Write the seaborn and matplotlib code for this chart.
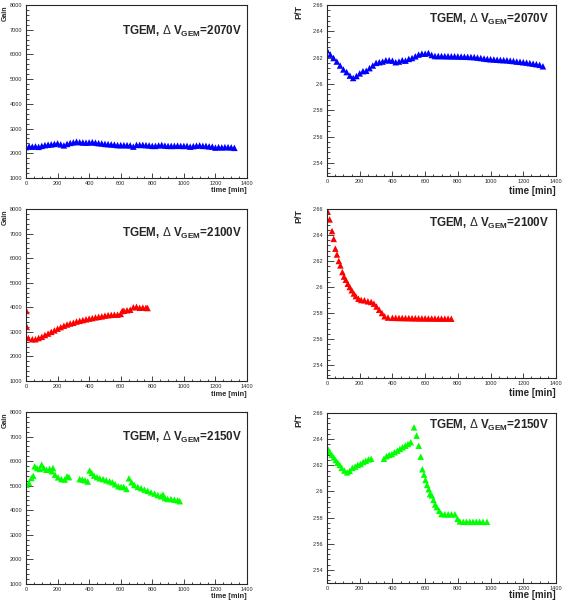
import numpy as np
import pandas as pd
import matplotlib
matplotlib.use("Agg")
import matplotlib.pyplot as plt
import seaborn as sns
from matplotlib.ticker import MultipleLocator, FormatStrFormatter

# ==============================
# DATA
# ==============================
t_2070 = [0, 20, 40, 60, 80, 100, 120, 140, 160, 180, 200, 220, 240, 260, 280, 300,
          320, 340, 360, 380, 400, 420, 440, 460, 480, 500, 520, 540, 560, 580, 600,
          620, 640, 660, 680, 700, 720, 740, 760, 780, 800, 820, 840, 860, 880, 900,
          920, 940, 960, 980, 1000, 1020, 1040, 1060, 1080, 1100, 1120, 1140, 1160,
          1180, 1200, 1220, 1240, 1260, 1280, 1300, 1320]
gain_2070 = [2250, 2280, 2270, 2280, 2260, 2300, 2330, 2350, 2360, 2380, 2400, 2360,
             2320, 2380, 2420, 2440, 2470, 2450, 2440, 2430, 2440, 2450, 2430, 2410,
             2400, 2380, 2370, 2360, 2350, 2330, 2330, 2330, 2330, 2320, 2270, 2340,
             2340, 2340, 2330, 2320, 2300, 2300, 2320, 2340, 2310, 2300, 2300, 2300,
             2310, 2300, 2300, 2300, 2270, 2290, 2310, 2320, 2300, 2300, 2280, 2270,
             2230, 2250, 2240, 2250, 2250, 2240, 2220]
pt_2070 = [2.6256, 2.6223, 2.6197, 2.6170, 2.6140, 2.6110, 2.6090, 2.6063, 2.6045,
           2.6060, 2.6080, 2.6097, 2.6100, 2.6120, 2.6140, 2.6160, 2.6165, 2.6170,
           2.6180, 2.6180, 2.6177, 2.6165, 2.6170, 2.6180, 2.6177, 2.6190, 2.6197,
           2.6210, 2.6223, 2.6230, 2.6230, 2.6235, 2.6220, 2.6212, 2.6212, 2.6212,
           2.6211, 2.6211, 2.6210, 2.6210, 2.6209, 2.6208, 2.6207, 2.6206, 2.6205,
           2.6204, 2.6200, 2.6197, 2.6193, 2.6190, 2.6188, 2.6186, 2.6184, 2.6182,
           2.6181, 2.6180, 2.6177, 2.6174, 2.6170, 2.6168, 2.6165, 2.6162, 2.6158,
           2.6154, 2.6150, 2.6145, 2.6134]

t_2100_gain = [3, 5, 15, 40, 60, 80, 100, 120, 140, 160, 180, 200, 220, 240, 260, 280,
               300, 320, 340, 360, 380, 400, 420, 440, 460, 480, 500, 520, 540, 560,
               580, 600, 610, 620, 640, 660, 680, 700, 720, 740, 760, 770]
gain_2100 = [3850, 3200, 2750, 2700, 2700, 2750, 2800, 2870, 2930, 3000, 3060, 3130,
             3190, 3250, 3300, 3340, 3370, 3420, 3450, 3480, 3510, 3540, 3560, 3590,
             3610, 3630, 3660, 3680, 3690, 3700, 3700, 3730, 3850, 3860, 3880, 3900,
             4000, 4020, 3980, 3990, 3980, 3970]
t_2100_pt = [2, 16, 31, 41, 51, 61, 72, 82, 94, 104, 115, 127, 139, 151, 164, 176,
             192, 209, 229, 250, 270, 287, 303, 319, 336, 352, 373, 400, 420, 440,
             460, 480, 500, 520, 540, 560, 580, 600, 620, 640, 660, 680, 700, 720,
             740, 760]
pt_2100 = [2.6585, 2.6520, 2.6430, 2.6370, 2.6295, 2.6250, 2.6200, 2.6166, 2.6115,
           2.6080, 2.6056, 2.6025, 2.6000, 2.5975, 2.5950, 2.5930, 2.5910, 2.5900,
           2.5898, 2.5890, 2.5885, 2.5872, 2.5850, 2.5825, 2.5800, 2.5775, 2.5765,
           2.5763, 2.5763, 2.5762, 2.5762, 2.5761, 2.5761, 2.5760, 2.5760, 2.5759,
           2.5759, 2.5759, 2.5758, 2.5758, 2.5758, 2.5757, 2.5757, 2.5757, 2.5757,
           2.5756]

t_2150_gain = [2, 19, 34, 46, 55, 70, 87, 99, 112, 129, 150, 163, 171, 184, 203, 224,
               245, 260, 272, 340, 357, 374, 391, 403, 416, 431, 450, 467, 488, 509,
               530, 547, 564, 585, 602, 619, 636, 652, 669, 686, 708, 729, 750, 771,
               792, 814, 835, 855, 868, 880, 897, 918, 940, 961, 974]
gain_2150 = [5040, 5110, 5310, 5400, 5790, 5720, 5680, 5860, 5720, 5650, 5680, 5590,
             5720, 5450, 5340, 5270, 5250, 5380, 5350, 5270, 5250, 5220, 5170, 5620,
             5520, 5410, 5350, 5300, 5270, 5220, 5180, 5140, 5060, 4980, 4950, 4950,
             4870, 5300, 5140, 5030, 4950, 4900, 4840, 4790, 4730, 4680, 4620, 4570,
             4640, 4500, 4460, 4460, 4430, 4410, 4370]
t_2150_pt = [4, 16, 29, 41, 53, 65, 78, 90, 106, 123, 139, 155, 172, 188, 205, 221,
             237, 254, 270, 348, 364, 380, 397, 413, 430, 446, 462, 479, 495, 512,
             532, 548, 561, 573, 583, 593, 602, 612, 622, 630, 641, 651, 661, 671,
             686, 700, 720, 741, 761, 782, 798, 812, 833, 853, 873, 893, 913, 933,
             953, 978]
pt_2150 = [2.6327, 2.6304, 2.6280, 2.6260, 2.6240, 2.6220, 2.6203, 2.6180, 2.6160,
           2.6146, 2.6157, 2.6180, 2.6190, 2.6203, 2.6210, 2.6225, 2.6235, 2.6245,
           2.6250, 2.6250, 2.6270, 2.6280, 2.6286, 2.6300, 2.6312, 2.6325, 2.6338,
           2.6350, 2.6363, 2.6376, 2.6490, 2.6427, 2.6350, 2.6266, 2.6170, 2.6129,
           2.6088, 2.6050, 2.6017, 2.5980, 2.5970, 2.5935, 2.5900, 2.5880, 2.5852,
           2.5827, 2.5825, 2.5825, 2.5825, 2.5825, 2.5790, 2.5771, 2.5768, 2.5768,
           2.5768, 2.5768, 2.5768, 2.5768, 2.5768, 2.5768]

voltages = ["2070", "2100", "2150"]
colors = ["#0000ff", "#ff0000", "#00ff00"]

# ==============================
# STYLE
# ==============================
sns.set_style("ticks")
plt.rcParams['font.family'] = ['Liberation Sans', 'DejaVu Sans']
plt.rcParams['mathtext.fontset'] = 'custom'
plt.rcParams['mathtext.rm'] = 'Liberation Sans'
plt.rcParams['mathtext.bf'] = 'Liberation Sans:bold'

W, H = 568, 601
fig = plt.figure(figsize=(W / 100, H / 100), dpi=100)


def px_axes(x0, y0, x1, y1):
    return fig.add_axes([x0 / W, 1 - y1 / H, (x1 - x0) / W, (y1 - y0) / H])


def style_axes(ax, ylo, yhi, ymaj, ymin, yfmt):
    ax.set_xlim(0, 1400)
    ax.set_ylim(ylo, yhi)
    ax.xaxis.set_major_locator(MultipleLocator(200))
    ax.xaxis.set_minor_locator(MultipleLocator(50))
    ax.yaxis.set_major_locator(MultipleLocator(ymaj))
    ax.yaxis.set_minor_locator(MultipleLocator(ymin))
    ax.yaxis.set_major_formatter(FormatStrFormatter(yfmt))
    ax.tick_params(axis='both', which='both', direction='in', width=0.6,
                   labelsize=4, pad=2.5, top=False, right=False)
    ax.tick_params(axis='y', which='major', length=4.7)
    ax.tick_params(axis='y', which='minor', length=2.4)
    ax.tick_params(axis='x', which='major', length=3.6)
    ax.tick_params(axis='x', which='minor', length=1.8)
    for s in ax.spines.values():
        s.set_visible(True)
        s.set_linewidth(0.8)
    ax.set_xlabel("")
    ax.set_ylabel("")


def draw(ax, t, v, color):
    df = pd.DataFrame({"t": t, "v": v})
    sns.scatterplot(data=df, x="t", y="v", ax=ax, marker="^", s=22,
                    color=color, edgecolor="none", linewidth=0, legend=False)


left_boxes = [(26, 5, 247, 178), (26, 209, 247, 381), (26, 412, 247, 584)]
right_boxes = [(327, 5, 556, 176), (327, 209, 556, 378), (327, 413, 556, 583)]
gain_data = [(t_2070, gain_2070), (t_2100_gain, gain_2100), (t_2150_gain, gain_2150)]
pt_data = [(t_2070, pt_2070), (t_2100_pt, pt_2100), (t_2150_pt, pt_2150)]
label_y_left = [31, 233, 437]
label_y_right = [19, 223, 425]
xlab_off_right = [15, 15, 12]

for i in range(3):
    # Gain panel
    ax = px_axes(*left_boxes[i])
    draw(ax, gain_data[i][0], gain_data[i][1], colors[i])
    style_axes(ax, 1000, 8000, 1000, 200, '%d')
    fig.text(5 / W, 1 - left_boxes[i][1] / H, "Gain", rotation=90, ha='center',
             va='top', fontsize=5, fontweight='bold')
    fig.text(247 / W, 1 - (left_boxes[i][3] + 13) / H, "time [min]", ha='right',
             va='center', fontsize=5.3, fontweight='bold')
    fig.text(242 / W, 1 - label_y_left[i] / H,
             r"TGEM, $\Delta$ V$_{\mathbf{GEM}}$=" + voltages[i] + "V",
             ha='right', va='center', fontsize=8.4, fontweight='bold')

    # P/T panel
    ax = px_axes(*right_boxes[i])
    draw(ax, pt_data[i][0], pt_data[i][1], colors[i])
    style_axes(ax, 2.53, 2.66, 0.02, 0.004, '%g')
    fig.text(299 / W, 1 - right_boxes[i][1] / H, "P/T", rotation=90, ha='center',
             va='top', fontsize=6.5, fontweight='bold')
    fig.text(556 / W, 1 - (right_boxes[i][3] + xlab_off_right[i]) / H, "time [min]",
             ha='right', va='center', fontsize=7, fontweight='bold')
    fig.text(549 / W, 1 - label_y_right[i] / H,
             r"TGEM, $\Delta$ V$_{\mathbf{GEM}}$=" + voltages[i] + "V",
             ha='right', va='center', fontsize=8.4, fontweight='bold')

fig.savefig("out.png", dpi=100)
